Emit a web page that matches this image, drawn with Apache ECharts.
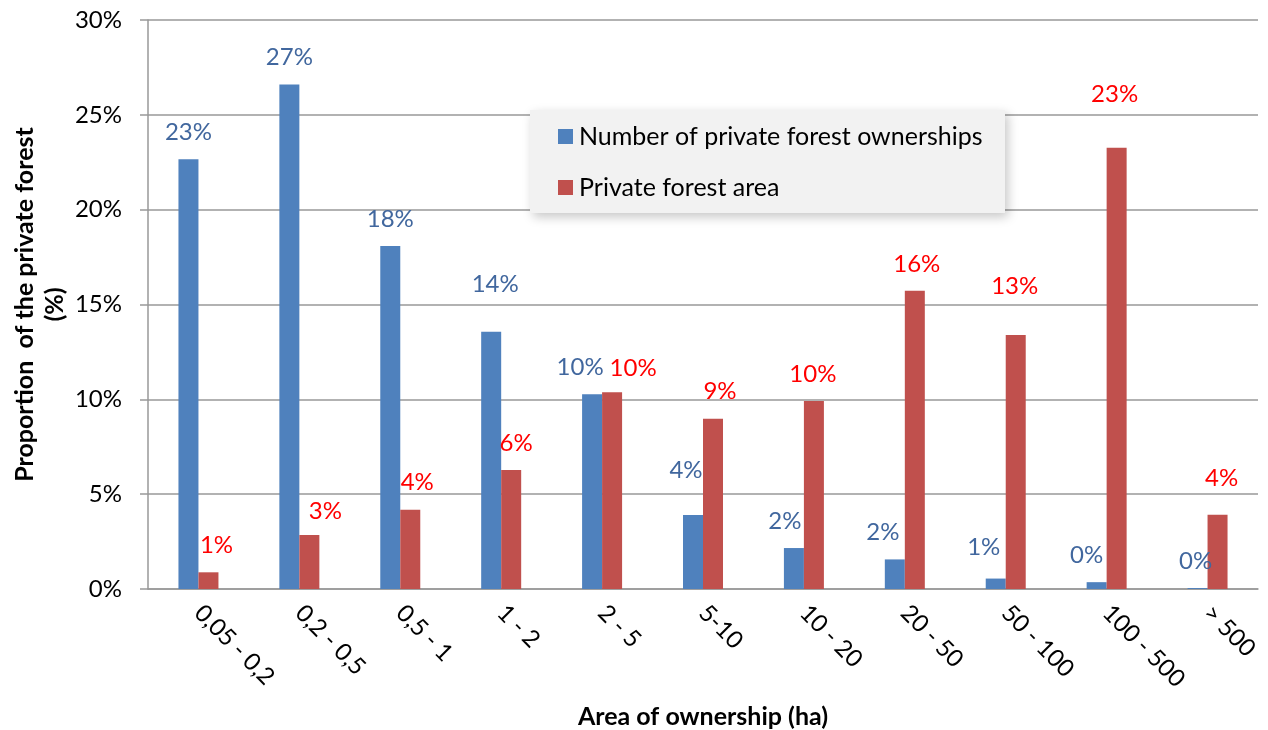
<!DOCTYPE html>
<html>
<head>
<meta charset="utf-8">
<script src="https://cdn.jsdelivr.net/npm/echarts@6/dist/echarts.min.js"></script>
<style>
  html, body { margin: 0; padding: 0; background: #ffffff; }
  #chart { width: 1268px; height: 730px; }
</style>
</head>
<body>
<div id="chart"></div>
<script>
// Size classes of private forest ownership (ha)
const categories = ['0,05 - 0,2', '0,2 - 0,5', '0,5 - 1', '1 - 2', '2 - 5', '5-10', '10 - 20', '20 - 50', '50 - 100', '100 - 500', '> 500'];

// Share of the number of private forest ownerships (%)
const ownershipShare = [22.66, 26.6, 18.08, 13.56, 10.27, 3.9, 2.16, 1.56, 0.55, 0.36, 0.05];

// Share of the private forest area (%)
const areaShare = [0.88, 2.85, 4.18, 6.27, 10.38, 8.98, 9.91, 15.72, 13.39, 23.26, 3.92];

const seriesNames = ['Number of private forest ownerships', 'Private forest area'];
const yTicks = [0, 5, 10, 15, 20, 25, 30];

// Hand-placed label nudges [dx, extra lift] so neighbouring labels stay clear of each other
const ownershipLabelNudge = [[0,0],[0,0],[0,0],[4,21],[-12,0],[-7,18],[-9,0],[-12,0],[-12,4],[-10,0],[-2,0]];
const areaLabelNudge = [[8,0],[16,-3],[7,0],[5,0],[21,-3],[7,0],[-1,0],[2,0],[-1,22],[-2,27],[4,9]];

const FONT = 'Lato, "Noto Sans", sans-serif';
const BLUE = '#4F81BD';
const RED = '#C0504D';
const BLUE_TEXT = '#41679E';
const RED_TEXT = '#FF0000';

function withLabels(values, nudges) {
  return values.map((v, i) => ({
    value: v,
    label: { offset: [nudges[i][0], -nudges[i][1]] }
  }));
}

const chart = echarts.init(document.getElementById('chart'), null, { renderer: 'canvas' });

chart.setOption({
  animation: false,
  textStyle: { fontFamily: FONT },
  grid: { left: 148, right: 10, top: 20, bottom: 141, containLabel: false, outerBoundsMode: 'none' },
  graphic: [{
    type: 'rect',
    left: 530, top: 110,
    shape: { width: 475, height: 103 },
    style: { fill: '#F2F2F2', shadowBlur: 10, shadowOffsetX: 3, shadowOffsetY: 4, shadowColor: 'rgba(0,0,0,0.22)' },
    z: 10
  }],
  legend: {
    orient: 'vertical',
    left: 553, top: 119,
    padding: 5,
    itemWidth: 15, itemHeight: 15,
    itemGap: 26,
    icon: 'rect',
    textStyle: { fontFamily: FONT, fontSize: 25, color: '#000', padding: [0, 0, 0, 1] },
    data: seriesNames,
    z: 11
  },
  xAxis: {
    type: 'category',
    data: categories,
    axisLine: { lineStyle: { color: '#999', width: 1.5 } },
    axisTick: { show: false },
    axisLabel: { rotate: -45, margin: 20, fontSize: 24, color: '#000', fontFamily: FONT, interval: 0 },
    name: 'Area of ownership (ha)',
    nameLocation: 'middle',
    nameGap: 115,
    nameMoveOverlap: false,
    nameTextStyle: { fontSize: 25, fontWeight: 'bold', color: '#000', fontFamily: FONT }
  },
  yAxis: {
    type: 'value',
    min: yTicks[0], max: yTicks[yTicks.length - 1], interval: 5,
    axisLine: { show: true, lineStyle: { color: '#999', width: 1.5 } },
    axisTick: { show: true, length: 8, lineStyle: { color: '#999', width: 1.5 } },
    splitLine: { lineStyle: { color: '#999', width: 1.5 } },
    axisLabel: { formatter: v => v + '%', fontSize: 24, color: '#000', margin: 26, fontFamily: FONT },
    name: 'Proportion  of the private forest\n(%)',
    nameLocation: 'middle',
    nameRotate: 90,
    nameGap: 78,
    nameMoveOverlap: false,
    nameTextStyle: { fontSize: 25, fontWeight: 'bold', color: '#000', fontFamily: FONT, lineHeight: 30, align: 'center' }
  },
  series: [
    {
      name: seriesNames[0],
      type: 'bar',
      barWidth: 20,
      barGap: '0%',
      itemStyle: { color: BLUE },
      data: withLabels(ownershipShare, ownershipLabelNudge),
      label: {
        show: true, position: 'top', distance: 15,
        formatter: p => Math.round(p.value) + '%',
        fontSize: 24, color: BLUE_TEXT, fontFamily: FONT
      }
    },
    {
      name: seriesNames[1],
      type: 'bar',
      barWidth: 20,
      barGap: '0%',
      itemStyle: { color: RED },
      data: withLabels(areaShare, areaLabelNudge),
      label: {
        show: true, position: 'top', distance: 15,
        formatter: p => Math.round(p.value) + '%',
        fontSize: 24, color: RED_TEXT, fontFamily: FONT
      }
    }
  ]
});
</script>
</body>
</html>
